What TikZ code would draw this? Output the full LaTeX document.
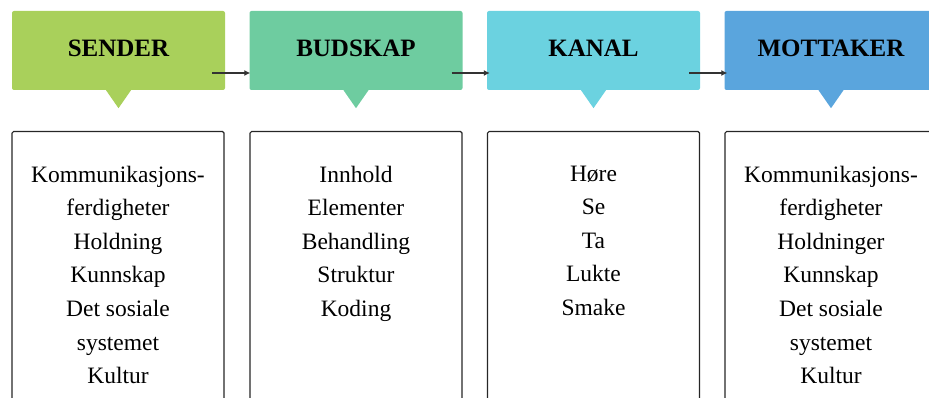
\documentclass[tikz,border=0pt]{standalone}
\usepackage{fontspec}
\setmainfont{Liberation Serif}
\usetikzlibrary{arrows.meta}
\definecolor{sendergreen}{HTML}{A9D05B}
\definecolor{budskapgreen}{HTML}{6ECCA0}
\definecolor{kanalcyan}{HTML}{6BD2E0}
\definecolor{mottakerblue}{HTML}{5AA5DD}
\tikzset{
  head/.style={rectangle, rounded corners=2pt, minimum width=213pt, minimum height=79pt, inner sep=0pt, text depth=4pt, font=\fontsize{25}{30}\selectfont\bfseries},
  listbox/.style={draw=black!85, line width=1.2pt, rounded corners=1.5pt, minimum width=212pt, minimum height=300pt, anchor=north},
  listtext/.style={anchor=north, align=center, inner sep=0pt, font=\fontsize{23.5}{33.6}\selectfont},
  flow/.style={-{Latex[length=6pt,width=6pt]}, line width=1.3pt, black!80}
}
\begin{document}
\begin{tikzpicture}[x=1pt,y=-1pt]
\useasboundingbox (0,0) rectangle (929,398);
\clip (0,0) rectangle (929,398);
% header boxes
\node[head, fill=sendergreen] (sender) at (118.5,50.5){SENDER};
\fill[sendergreen] ([xshift=-12.5pt]sender.south) -- ([yshift=-18pt]sender.south) -- ([xshift=12.5pt]sender.south) -- cycle;
\node[head, fill=budskapgreen] (budskap) at (356,50.5){BUDSKAP};
\fill[budskapgreen] ([xshift=-12.5pt]budskap.south) -- ([yshift=-18pt]budskap.south) -- ([xshift=12.5pt]budskap.south) -- cycle;
\node[head, fill=kanalcyan] (kanal) at (593.5,50.5){KANAL};
\fill[kanalcyan] ([xshift=-12.5pt]kanal.south) -- ([yshift=-18pt]kanal.south) -- ([xshift=12.5pt]kanal.south) -- cycle;
\node[head, fill=mottakerblue] (mottaker) at (831,50.5){MOTTAKER};
\fill[mottakerblue] ([xshift=-12.5pt]mottaker.south) -- ([yshift=-18pt]mottaker.south) -- ([xshift=12.5pt]mottaker.south) -- cycle;
% arrows
\draw[flow] ([xshift=-13pt,yshift=-22.5pt]sender.east) -- ([xshift=1pt,yshift=-22.5pt]budskap.west);
\draw[flow] ([xshift=-11pt,yshift=-22.5pt]budskap.east) -- ([xshift=3pt,yshift=-22.5pt]kanal.west);
\draw[flow] ([xshift=-11pt,yshift=-22.5pt]kanal.east) -- ([xshift=3pt,yshift=-22.5pt]mottaker.west);
% list boxes
\node[listbox] (senderbox) at (118,131){};
\node[listbox] (budskapbox) at (356,131){};
\node[listbox] (kanalbox) at (593.5,131){};
\node[listbox] (mottakerbox) at (831,131){};
\node[listtext] (sendertext) at ([yshift=-34.5pt]senderbox.north){Kommunikasjons-\\ferdigheter\\Holdning\\Kunnskap\\Det sosiale\\systemet\\Kultur};
\node[listtext] (budskaptext) at ([yshift=-34.5pt]budskapbox.north){Innhold\\Elementer\\Behandling\\Struktur\\Koding};
\node[listtext] (kanaltext) at ([yshift=-34.5pt]kanalbox.north){Høre\\Se\\Ta\\Lukte\\Smake};
\node[listtext] (mottakertext) at ([yshift=-34.5pt]mottakerbox.north){Kommunikasjons-\\ferdigheter\\Holdninger\\Kunnskap\\Det sosiale\\systemet\\Kultur};
\end{tikzpicture}
\end{document}
